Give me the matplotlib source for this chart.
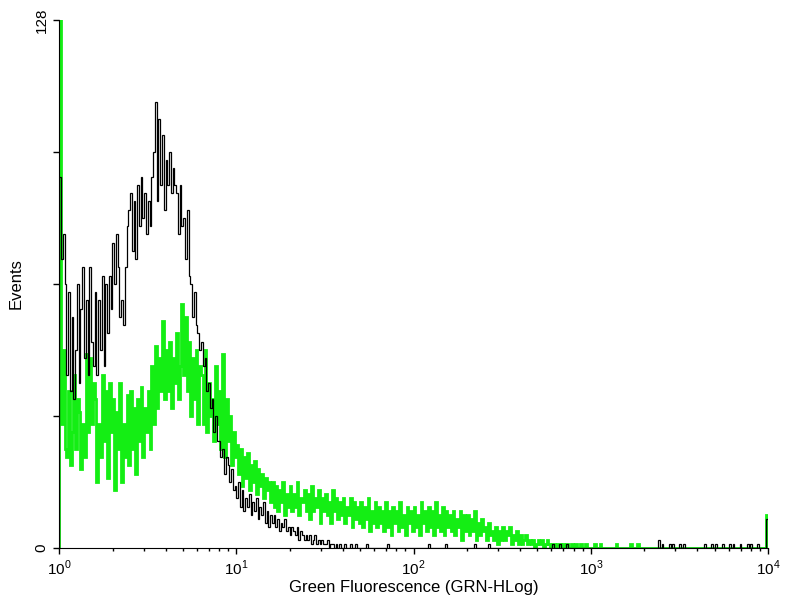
"""
Flow cytometry histogram: Green Fluorescence (GRN-HLog)
"""

import numpy as np
import matplotlib.pyplot as plt

plt.rcParams['font.family'] = ['Liberation Sans', 'DejaVu Sans']
plt.rcParams['mathtext.fontset'] = 'custom'
plt.rcParams['mathtext.rm'] = 'Liberation Sans'

# 4 decades, 100 channels per decade
LOG_MIN, LOG_MAX = 0, 4
N_BINS = 400

# control (black) counts per channel, 10 channels per row
black_counts = [
    90, 70, 76, 64, 42, 62, 38, 56, 36, 48,
    64, 40, 58, 68, 46, 60, 42, 68, 50, 44,
    62, 42, 60, 48, 66, 44, 64, 52, 66, 58,
    74, 64, 76, 68, 56, 60, 54, 68, 78, 82,
    86, 72, 84, 70, 88, 78, 90, 80, 86, 76,
    84, 78, 90, 96, 108, 84, 104, 88, 100, 82,
    94, 88, 96, 86, 92, 88, 86, 76, 88, 78,
    80, 70, 82, 66, 64, 56, 62, 54, 52, 48,
    50, 44, 46, 38, 40, 34, 36, 28, 32, 26,
    26, 22, 24, 18, 22, 20, 16, 19, 14, 15,
    12, 16, 10, 14, 9, 12, 10, 13, 8, 11,
    9, 12, 7, 10, 8, 11, 6, 9, 5, 8,
    6, 8, 5, 7, 4, 6, 5, 7, 4, 5,
    3, 5, 4, 3, 5, 2, 4, 3, 2, 3,
    2, 3, 1, 2, 3, 1, 2, 1, 2, 1,
    1, 2, 0, 1, 1, 0, 1, 0, 1, 0,
    0, 1, 0, 0, 1, 0, 0, 1, 0, 0,
    0, 0, 0, 1, 0, 0, 0, 0, 0, 0,
    0, 0, 0, 0, 0, 1, 0, 0, 0, 0,
    0, 0, 0, 0, 0, 0, 0, 0, 0, 0,
    0, 0, 0, 0, 0, 0, 0, 0, 1, 0,
    0, 0, 0, 0, 0, 0, 0, 0, 1, 0,
    0, 0, 0, 0, 0, 0, 0, 0, 0, 0,
    0, 0, 0, 0, 1, 0, 0, 0, 0, 0,
    0, 0, 1, 0, 0, 0, 0, 0, 0, 0,
    0, 0, 0, 0, 0, 0, 0, 0, 0, 0,
    0, 0, 0, 0, 0, 0, 0, 0, 0, 0,
    0, 0, 0, 0, 0, 0, 0, 0, 1, 0,
    0, 0, 1, 0, 0, 0, 1, 0, 0, 0,
    0, 0, 0, 0, 0, 0, 0, 0, 0, 0,
    0, 0, 0, 0, 0, 0, 0, 0, 0, 0,
    0, 0, 0, 0, 0, 0, 0, 0, 0, 0,
    0, 0, 0, 0, 0, 0, 0, 0, 0, 0,
    0, 0, 0, 0, 0, 0, 0, 0, 2, 0,
    1, 0, 0, 0, 1, 0, 1, 0, 0, 0,
    1, 0, 1, 0, 0, 0, 0, 0, 0, 0,
    0, 0, 0, 0, 1, 0, 0, 0, 1, 0,
    1, 0, 0, 0, 1, 0, 0, 0, 1, 0,
    1, 0, 0, 0, 1, 0, 0, 0, 1, 0,
    1, 0, 0, 0, 1, 0, 0, 0, 0, 7,
]

# stained sample (green) counts per channel, 10 channels per row
green_counts = [
    135, 30, 48, 24, 22, 38, 20, 28, 42, 24,
    36, 33, 19, 30, 22, 47, 28, 46, 30, 40,
    36, 16, 30, 22, 42, 26, 38, 17, 40, 28,
    36, 14, 33, 24, 40, 16, 30, 22, 37, 20,
    38, 24, 34, 18, 36, 26, 39, 22, 34, 28,
    38, 24, 44, 30, 49, 34, 46, 38, 55, 36,
    48, 38, 50, 34, 46, 40, 52, 36, 44, 59,
    42, 56, 38, 50, 32, 46, 36, 48, 30, 44,
    42, 30, 48, 28, 40, 32, 36, 26, 44, 30,
    38, 24, 47, 22, 36, 26, 32, 20, 28, 22,
    25, 18, 24, 15, 22, 17, 23, 14, 20, 16,
    21, 13, 19, 15, 18, 12, 17, 14, 16, 11,
    16, 10, 15, 9, 14, 11, 16, 8, 13, 10,
    15, 9, 13, 10, 16, 8, 12, 11, 14, 9,
    13, 7, 15, 9, 12, 10, 14, 6, 12, 9,
    13, 8, 11, 6, 14, 9, 12, 7, 11, 8,
    12, 6, 10, 8, 12, 5, 11, 7, 10, 6,
    11, 5, 10, 7, 12, 4, 9, 6, 11, 5,
    10, 6, 9, 4, 11, 5, 9, 3, 10, 6,
    9, 4, 11, 5, 8, 3, 10, 6, 9, 4,
    10, 5, 8, 3, 11, 6, 9, 4, 10, 5,
    9, 3, 11, 5, 8, 4, 10, 3, 9, 5,
    8, 4, 9, 3, 7, 5, 9, 2, 8, 4,
    8, 3, 7, 4, 9, 2, 6, 3, 7, 4,
    5, 2, 6, 3, 4, 2, 5, 1, 4, 2,
    5, 2, 4, 3, 5, 1, 3, 2, 4, 1,
    3, 1, 2, 3, 1, 2, 1, 2, 0, 1,
    2, 1, 2, 0, 1, 2, 1, 0, 1, 1,
    0, 1, 1, 0, 1, 0, 1, 0, 0, 1,
    0, 1, 0, 0, 1, 0, 0, 1, 0, 0,
    0, 0, 1, 0, 0, 1, 0, 0, 0, 0,
    0, 0, 0, 0, 1, 0, 0, 0, 0, 0,
    0, 0, 1, 0, 0, 0, 1, 0, 0, 0,
    0, 0, 0, 0, 0, 0, 0, 0, 0, 0,
    0, 0, 0, 0, 0, 0, 0, 0, 0, 0,
    0, 0, 0, 0, 0, 0, 0, 0, 0, 0,
    0, 0, 0, 0, 0, 0, 0, 0, 0, 0,
    0, 0, 0, 0, 0, 0, 0, 0, 0, 0,
    0, 0, 0, 0, 0, 0, 0, 0, 0, 0,
    0, 0, 0, 0, 0, 0, 0, 0, 0, 8,
]

x_ticks = [1, 10, 100, 1000, 10000]
x_tick_labels = [r'$10^0$', r'$10^1$', r'$10^2$', r'$10^3$', r'$10^4$']
y_ticks = [0, 32, 64, 96, 128]
y_tick_labels = ['0', '', '', '', '128']


def main():
    edges = np.logspace(LOG_MIN, LOG_MAX, N_BINS + 1)

    fig = plt.figure(figsize=(8, 6), dpi=100)
    ax = fig.add_axes([0.074, 0.087, 0.886, 0.88])

    ax.stairs(green_counts, edges, color='#14ee14', linewidth=2.0, zorder=2)
    ax.stairs(black_counts, edges, color='black', linewidth=0.9, zorder=3)

    ax.set_xscale('log')
    ax.set_xlim(1, 10000)
    ax.set_ylim(0, 128)

    ax.set_xticks(x_ticks)
    ax.set_xticklabels(x_tick_labels, fontsize=11)
    ax.set_yticks(y_ticks)
    ax.set_yticklabels(y_tick_labels, fontsize=11, rotation=90, va='center')

    ax.tick_params(axis='both', which='major', direction='out', length=4, width=1)
    ax.tick_params(axis='x', which='minor', direction='out', length=2.5, width=1)

    for side in ['top', 'right']:
        ax.spines[side].set_visible(False)

    ax.set_xlabel('Green Fluorescence (GRN-HLog)', fontsize=12, labelpad=2)
    ax.set_ylabel('Events', fontsize=12, labelpad=8)

    fig.savefig('out.png', dpi=100)
    plt.close(fig)


if __name__ == '__main__':
    main()
